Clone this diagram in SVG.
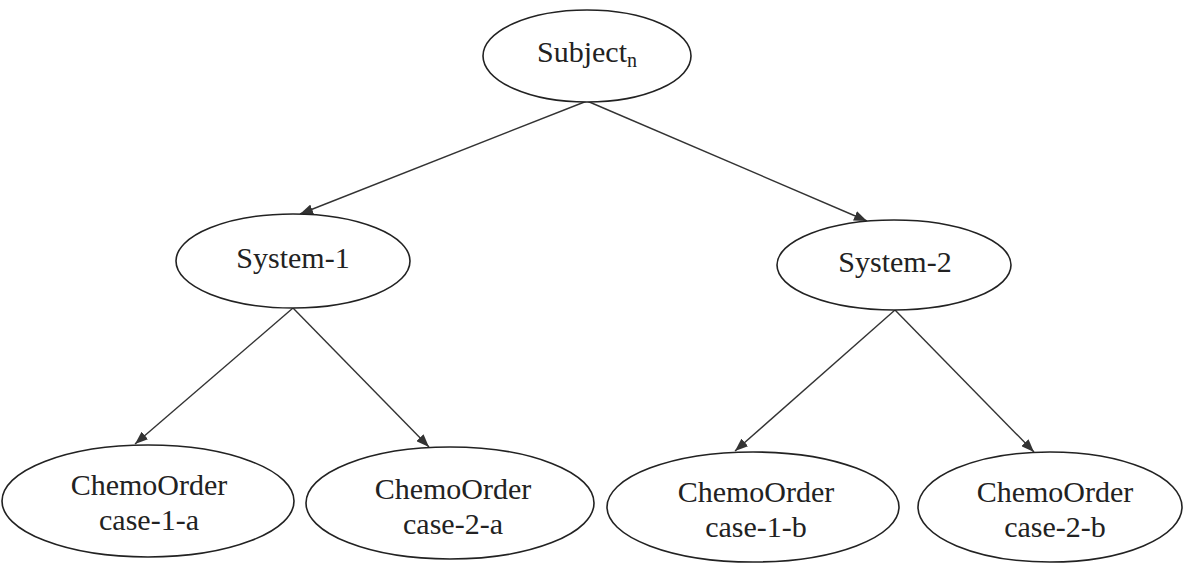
<svg xmlns="http://www.w3.org/2000/svg" width="1184" height="564" viewBox="0 0 1184 564">
<style>
.n{fill:#fff;stroke:#222;stroke-width:1.6}
.t{font-family:"Liberation Serif","Times New Roman",serif;font-size:30px;fill:#222;text-anchor:middle}
.e{stroke:#333;stroke-width:1.4;fill:none;marker-end:url(#ah)}
</style>
<defs>
<marker id="ah" viewBox="0 0 13 10" refX="13" refY="5" markerWidth="13" markerHeight="10" markerUnits="userSpaceOnUse" orient="auto">
<path d="M0,0 L13,5 L0,10 z" fill="#333"/>
</marker>
</defs>
<rect width="1184" height="564" fill="#fff"/>
<g id="edges">
<path class="e" d="M587,101 L300,214"/>
<path class="e" d="M587,101 L867,221"/>
<path class="e" d="M293,308 L135,444"/>
<path class="e" d="M293,308 L429,447"/>
<path class="e" d="M895,310 L735,451"/>
<path class="e" d="M895,310 L1034,452"/>
</g>
<g id="subject">
<ellipse class="n" cx="587" cy="56" rx="104" ry="46"/>
<text class="t" x="537" y="62" style="text-anchor:start">Subject<tspan font-size="20" dy="5">n</tspan></text>
</g>
<g id="system1">
<ellipse class="n" cx="293" cy="261" rx="117" ry="47"/>
<text class="t" x="293" y="268">System-1</text>
</g>
<g id="system2">
<ellipse class="n" cx="894" cy="265" rx="117" ry="45"/>
<text class="t" x="895" y="272">System-2</text>
</g>
<g id="case1a">
<ellipse class="n" cx="148" cy="501" rx="146" ry="56"/>
<text class="t" x="149" y="495">ChemoOrder</text>
<text class="t" x="149" y="530">case-1-a</text>
</g>
<g id="case2a">
<ellipse class="n" cx="450" cy="503" rx="144" ry="56"/>
<text class="t" x="453" y="499">ChemoOrder</text>
<text class="t" x="453" y="534">case-2-a</text>
</g>
<g id="case1b">
<ellipse class="n" cx="753" cy="507" rx="146" ry="55"/>
<text class="t" x="756" y="502">ChemoOrder</text>
<text class="t" x="756" y="537">case-1-b</text>
</g>
<g id="case2b">
<ellipse class="n" cx="1050" cy="507" rx="132" ry="55"/>
<text class="t" x="1055" y="502">ChemoOrder</text>
<text class="t" x="1055" y="537">case-2-b</text>
</g>
</svg>
